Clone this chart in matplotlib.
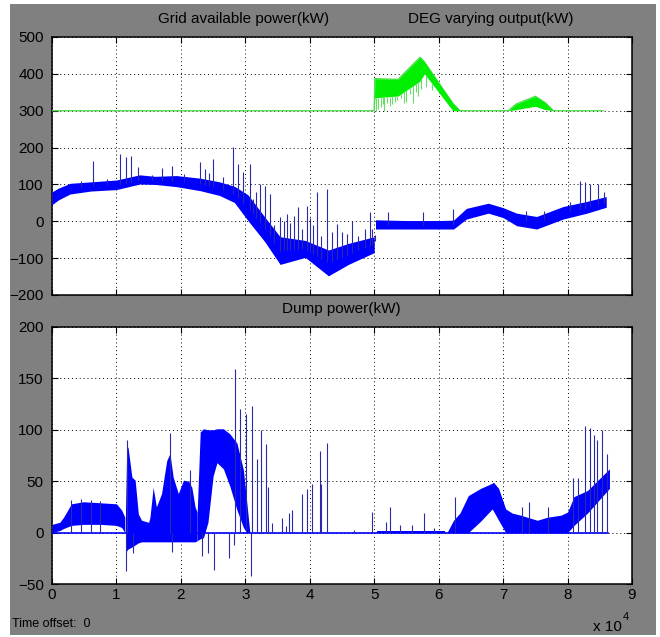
import numpy as np
import matplotlib
matplotlib.use("Agg")
import matplotlib.pyplot as plt
from matplotlib.patches import Rectangle

plt.rcParams['font.family'] = ['Liberation Sans', 'DejaVu Sans']

# ---------- data (time in units of 1e4 s) ----------

# grid available power, blue band (two pieces, break at t=5)
grid_x_a = [0.0, 0.1, 0.28, 0.6, 1.0, 1.36, 1.6, 1.93, 2.3, 2.6, 2.83, 3.04, 3.3, 3.54, 3.93, 4.29, 4.6, 5.0]
grid_hi_a = [80, 90, 103, 107, 112, 126, 122, 124, 117, 107, 95, 72, 12, -42, -52, -78, -60, -42]
grid_lo_a = [45, 58, 74, 82, 86, 101, 100, 94, 83, 70, 51, 2, -55, -117, -98, -148, -117, -85]

grid_x_b = [5.02, 5.5, 6.0, 6.23, 6.43, 6.77, 7.0, 7.21, 7.52, 7.93, 8.3, 8.6]
grid_hi_b = [4, 2, 2, 3, 35, 49, 37, 22, 13, 40, 54, 67]
grid_lo_b = [-21, -21, -21, -21, 6, 22, 10, -12, -21, 6, 22, 38]

grid_spike_x = [0.45, 0.63, 0.85, 1.05, 1.15, 1.22, 1.34, 1.55, 1.70, 1.86, 2.05, 2.30, 2.37,
                2.44, 2.50, 2.65, 2.81, 2.89, 2.97, 3.07, 3.12, 3.17, 3.23, 3.30, 3.38, 3.45,
                3.54, 3.60, 3.64, 3.70, 3.75, 3.82, 3.88, 3.95, 4.0, 4.05, 4.11, 4.18, 4.26,
                4.35, 4.42, 4.5, 4.57, 4.65, 4.75, 4.85, 4.93, 4.97, 5.01, 5.22, 5.76, 6.23,
                7.36, 7.63, 8.04, 8.19, 8.27, 8.35, 8.48, 8.56]
grid_spike_v = [110, 163, 115, 183, 174, 176, 147, 125, 145, 151, 128, 160, 142,
                130, 169, 120, 201, 156, 133, 156, 60, 80, 101, 97, 74, -10,
                11, 0, 20, -5, 15, 38, -20, 42, 10, -10, 79, -40, 88,
                -30, -8, -30, -35, 1, -40, -20, 24, -20, -53, 24, 24, 33,
                29, 29, 51, 110, 106, 101, 101, 79]

# DEG varying output, green band
deg_x = [0.0, 5.0, 5.01, 5.37, 5.71, 5.78, 6.22, 6.33, 7.08, 7.2, 7.5, 7.65, 7.78, 8.55]
deg_hi = [300, 300, 387, 385, 445, 432, 320, 300, 300, 318, 339, 322, 300, 300]
deg_lo = [300, 300, 335, 340, 380, 400, 300, 300, 300, 303, 312, 303, 300, 300]

deg_drop_x = [5.03, 5.06, 5.1, 5.13, 5.15, 5.2, 5.24, 5.28, 5.32, 5.35, 5.42, 5.46, 5.5,
              5.55, 5.6, 5.65, 5.68, 5.73, 5.8, 5.9]
deg_drop_v = [300, 305, 310, 318, 300, 320, 312, 318, 325, 330, 335, 322, 325,
              345, 320, 350, 340, 360, 365, 355]

# dump power, blue band segments
dump_base_x = [0.0, 8.62]
dump_base_v = [0, 0]

dump_x1 = [0.0, 0.12, 0.18, 0.30, 0.49, 0.75, 1.0, 1.08, 1.13]
dump_hi1 = [8, 10, 15, 28, 30, 29, 28, 22, 15]
dump_lo1 = [0, 2, 4, 7, 8, 8, 7, 5, 0]

dump_x2 = [1.14, 1.16, 1.18, 1.24, 1.29, 1.34, 1.39, 1.50, 1.52, 1.57, 1.62, 1.70, 1.78,
           1.83, 1.88, 1.96, 2.04, 2.12, 2.17, 2.22, 2.25]
dump_hi2 = [20, 83, 83, 54, 51, 18, 12, 10, 15, 44, 25, 38, 70,
            77, 54, 38, 51, 50, 44, 25, 20]
dump_lo2 = [-5, -18, -16, -14, -12, -10, -9, -9, -9, -9, -9, -9, -9,
            -9, -9, -9, -9, -9, -9, -9, -8]

dump_x3 = [2.25, 2.30, 2.35, 2.42, 2.50, 2.56, 2.66, 2.76, 2.87, 2.97, 3.02, 3.07]
dump_hi3 = [15, 98, 101, 100, 100, 101, 101, 96, 87, 61, 31, 0]
dump_lo3 = [-8, -6, -5, 10, 55, 68, 62, 45, 22, 5, 0, 0]

dump_x4 = [5.05, 6.1]
dump_hi4 = [2, 2]
dump_lo4 = [0, 0]

dump_x5 = [6.13, 6.23, 6.33, 6.46, 6.65, 6.83, 6.85, 6.93, 7.04, 7.14, 7.27, 7.53, 7.69,
           7.90, 8.0, 8.10, 8.31, 8.65]
dump_hi5 = [0, 12, 19, 36, 43, 48, 49, 43, 23, 19, 17, 12, 15, 17, 20, 35, 41, 62]
dump_lo5 = [0, 0, 0, 0, 11, 23, 21, 12, 0, 0, 0, 0, 0, 0, 0, 7, 19, 43]

dump_spike_x = [0.3, 0.45, 0.6, 0.75, 1.17, 1.83, 2.14, 2.84, 2.92, 3.01, 3.11, 3.18, 3.24,
                3.32, 3.35, 3.41, 3.57, 3.63, 3.67, 3.73, 3.88, 3.96, 4.03, 4.16, 4.18, 4.27,
                4.68, 4.97, 5.19, 5.24, 5.40, 5.59, 5.77, 5.92, 6.26, 7.29, 7.40, 7.69, 8.08,
                8.16, 8.27, 8.35, 8.41, 8.46, 8.53, 8.61,
                1.15, 1.25, 1.86, 2.32, 2.42, 2.52, 2.75, 2.83, 3.09]
dump_spike_v = [32, 33, 32, 31, 90, 97, 61, 159, 120, 115, 123, 72, 100,
                86, 44, 9, 14, 6, 19, 22, 38, 42, 47, 79, 47, 87,
                3, 20, 10, 25, 7, 7, 19, 4, 35, 25, 30, 25, 53,
                53, 104, 102, 95, 90, 100, 76,
                -37, -20, -19, -23, -20, -36, -25, -12, -42]

# ---------- figure ----------
BLUE = '#0000ff'
SPIKE = '#2a2aa8'
GREEN = '#00ee00'
GRAY = '#808080'

fig = plt.figure(figsize=(6.6, 6.37), dpi=100, facecolor='white')
fig.patches.append(Rectangle((10 / 660, 1 - 635 / 637), 646 / 660, 631 / 637,
                             transform=fig.transFigure, facecolor=GRAY,
                             edgecolor='none', zorder=-10))

ax1 = fig.add_axes([52 / 660, 1 - 295 / 637, 580 / 660, 258 / 637])
ax2 = fig.add_axes([52 / 660, 1 - 584 / 637, 580 / 660, 257 / 637])


def style(ax, ylim, yticks):
    ax.set_facecolor('white')
    ax.set_xlim(0, 9)
    ax.set_ylim(*ylim)
    ax.set_xticks(range(0, 10))
    ax.set_yticks(yticks)
    ax.grid(True, color='black', linestyle=(0, (1, 3)), linewidth=0.7)
    ax.set_axisbelow(True)
    ax.tick_params(direction='in', length=4, width=0.8, top=True, right=True,
                   labelsize=11, colors='black')
    ax.tick_params(axis='y', pad=6)
    ax.tick_params(axis='x', pad=3)
    for s in ax.spines.values():
        s.set_linewidth(1.1)
        s.set_color('black')


# top panel
style(ax1, (-200, 500), range(-200, 501, 100))
ax1.set_xticklabels([])
ax1.plot(deg_x, deg_hi, color='#55dd55', linewidth=1.0, zorder=3)
ax1.fill_between(deg_x, deg_lo, deg_hi, color=GREEN, linewidth=0, zorder=3)
deg_base = np.interp(deg_drop_x, deg_x, deg_lo)
ax1.vlines(deg_drop_x, deg_drop_v, deg_base, color='#66dd66', linewidth=0.8, zorder=3)

ax1.fill_between(grid_x_a, grid_lo_a, grid_hi_a, color=BLUE, linewidth=0, zorder=3)
ax1.fill_between(grid_x_b, grid_lo_b, grid_hi_b, color=BLUE, linewidth=0, zorder=3)
gx = np.array(grid_x_a + grid_x_b)
glo = np.array(grid_lo_a + grid_lo_b)
ghi = np.array(grid_hi_a + grid_hi_b)
mid = (glo + ghi) / 2
g_base = np.interp(grid_spike_x, gx, mid)
ax1.vlines(grid_spike_x, g_base, grid_spike_v, color=SPIKE, linewidth=0.8, zorder=3)

# bottom panel
style(ax2, (-50, 200), range(-50, 201, 50))
ax2.plot(dump_base_x, dump_base_v, color=BLUE, linewidth=1.2, zorder=3)
for sx, slo, shi in [(dump_x1, dump_lo1, dump_hi1), (dump_x2, dump_lo2, dump_hi2),
                     (dump_x3, dump_lo3, dump_hi3), (dump_x4, dump_lo4, dump_hi4),
                     (dump_x5, dump_lo5, dump_hi5)]:
    ax2.fill_between(sx, slo, shi, color=BLUE, linewidth=0, zorder=3)
ax2.vlines(dump_spike_x, 0, dump_spike_v, color=SPIKE, linewidth=0.8, zorder=3)

# titles and scope texts
fig.text(244 / 660, 1 - 19 / 637, 'Grid available power(kW)', ha='center', va='center', fontsize=11)
fig.text(491 / 660, 1 - 19 / 637, 'DEG varying output(kW)', ha='center', va='center', fontsize=11)
fig.text(341 / 660, 1 - 309 / 637, 'Dump power(kW)', ha='center', va='center', fontsize=11)
fig.text(12 / 660, 1 - 624 / 637, 'Time offset:  0', ha='left', va='center', fontsize=9)
fig.text(622 / 660, 1 - 627 / 637, 'x 10', ha='right', va='center', fontsize=11)
fig.text(623 / 660, 1 - 617 / 637, '4', ha='left', va='center', fontsize=8)

fig.savefig('out.png', dpi=100, facecolor='white')
